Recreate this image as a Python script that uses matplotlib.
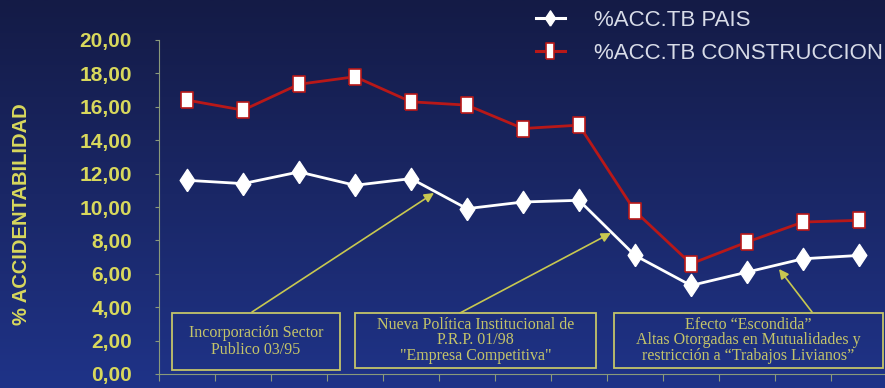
import numpy as np
import matplotlib
matplotlib.use("Agg")
import matplotlib.pyplot as plt
from matplotlib.patches import Rectangle
from matplotlib.lines import Line2D
from matplotlib.colors import LinearSegmentedColormap

# accident rates per period (13 points), country total vs construction
pais = [11.6, 11.4, 12.1, 11.3, 11.7, 9.9, 10.3, 10.4, 7.1, 5.3, 6.1, 6.9, 7.1]
construccion = [16.4, 15.8, 17.35, 17.8, 16.3, 16.1, 14.7, 14.9, 9.75, 6.6, 7.9, 9.1, 9.2]
series_labels = ["%ACC.TB PAIS", "%ACC.TB CONSTRUCCION"]
y_ticks = [0, 2, 4, 6, 8, 10, 12, 14, 16, 18, 20]

notes = [
    "Incorporación Sector\nPublico 03/95",
    "Nueva Política Institucional de\nP.R.P. 01/98\n\"Empresa Competitiva\"",
    "Efecto “Escondida”\nAltas Otorgadas en Mutualidades y\nrestricción a “Trabajos Livianos”",
]

YELLOW = "#d8d85c"
OLIVE = "#c4c46a"
RED = "#b81818"

W, H = 885, 388
fig = plt.figure(figsize=(W / 100, H / 100), dpi=100)

# dark navy gradient behind everything
bg = fig.add_axes([0, 0, 1, 1], zorder=-10)
grad = np.linspace(0, 1, 256).reshape(-1, 1)
cmap = LinearSegmentedColormap.from_list("bg", ["#141b46", "#1a2766", "#1f3388"])
bg.imshow(grad, aspect="auto", cmap=cmap, extent=[0, 1, 0, 1], origin="upper")
bg.set_axis_off()

# plot area in pixels: left spine 159, top 40, bottom 374, right past the edge
left, top, bottom, right = 159, 40, 374, 887
ax = fig.add_axes([left / W, 1 - bottom / H, (right - left) / W, (bottom - top) / H])
ax.patch.set_alpha(0)

x = np.arange(len(pais))
diamond = [(0, -0.5), (0.33, 0), (0, 0.5), (-0.33, 0), (0, -0.5)]
rect_marker = [(-0.4, -0.5), (0.4, -0.5), (0.4, 0.5), (-0.4, 0.5), (-0.4, -0.5)]
thin_rect = [(-0.28, -0.5), (0.28, -0.5), (0.28, 0.5), (-0.28, 0.5), (-0.28, -0.5)]

ax.plot(x, construccion, color=RED, lw=2.0, marker=rect_marker, markersize=11.5,
        markerfacecolor="white", markeredgecolor=RED, markeredgewidth=1.2, zorder=4)
ax.plot(x, pais, color="white", lw=2.0, marker=diamond, markersize=16,
        markerfacecolor="white", markeredgecolor="white", zorder=4)

ax.set_xlim(-0.5, len(pais) - 0.5)
ax.set_ylim(0, 20)
ax.set_yticks(y_ticks)
ax.set_yticklabels([f"{v:.2f}".replace(".", ",") for v in y_ticks])
ax.set_xticks(np.arange(-0.5, len(pais), 1.0))
ax.set_xticklabels([])

for s in ["top", "right"]:
    ax.spines[s].set_visible(False)
for s in ["left", "bottom"]:
    ax.spines[s].set_color("#8a9a7a")
    ax.spines[s].set_linewidth(0.8)
ax.tick_params(axis="y", colors="#8a9a7a", length=3, width=0.8, pad=16.5,
               labelcolor=YELLOW, labelsize=15)
ax.tick_params(axis="x", colors="#8a9a7a", length=5, width=0.8)
for lbl in ax.get_yticklabels():
    lbl.set_fontfamily("Liberation Sans")
    lbl.set_fontweight("bold")

fig.text(22 / W, 1 - 214 / H, "% ACCIDENTABILIDAD", rotation=90, ha="center",
         va="center", color=YELLOW, fontsize=14.5, fontweight="bold",
         family="Liberation Sans")

# annotation boxes (data coords) and arrows
def px2data(px, py):
    return (px - 187) / 56.0, (bottom - py) / ((bottom - top) / 20.0)

boxes = [(172, 313, 340, 370), (355, 313, 596, 368), (614, 313, 883, 368)]
spacing = [1.15, 0.95, 0.95]
arrows = [((252, 312), (434, 193)), ((460, 313), (611, 233)), ((812, 312), (779, 269))]

for (bx0, by0, bx1, by1), txt, ls in zip(boxes, notes, spacing):
    x0, y1 = px2data(bx0, by0)
    x1, y0 = px2data(bx1, by1)
    ax.add_patch(Rectangle((x0, y0), x1 - x0, y1 - y0, fill=False,
                           edgecolor=OLIVE, lw=1.3, zorder=3, clip_on=False))
    ax.text((x0 + x1) / 2, (y0 + y1) / 2, txt, ha="center", va="center",
            color=OLIVE, fontsize=11.5, family="Liberation Serif",
            linespacing=ls, zorder=3)

for (sx, sy), (tx, ty) in arrows:
    ax.annotate("", xy=px2data(tx, ty), xytext=px2data(sx, sy),
                arrowprops=dict(arrowstyle="-|>", color="#c8c850", lw=1.2,
                                mutation_scale=14, shrinkA=0, shrinkB=0),
                zorder=3)

# legend at the top right
handles = [
    Line2D([], [], color="white", lw=2.2, marker=diamond, markersize=11,
           markerfacecolor="white", markeredgecolor="white"),
    Line2D([], [], color=RED, lw=2.2, marker=thin_rect, markersize=11,
           markerfacecolor="white", markeredgecolor=RED, markeredgewidth=1.2),
]
leg = fig.legend(handles, series_labels, loc="upper left",
                 bbox_to_anchor=(527 / W, 1 - 1 / H), frameon=False,
                 fontsize=16, handlelength=1.3, handletextpad=1.3,
                 labelspacing=0.55, borderaxespad=0)
for t in leg.get_texts():
    t.set_color("#d8dce8")
    t.set_fontfamily("Liberation Sans")

fig.savefig("out.png", dpi=100)
